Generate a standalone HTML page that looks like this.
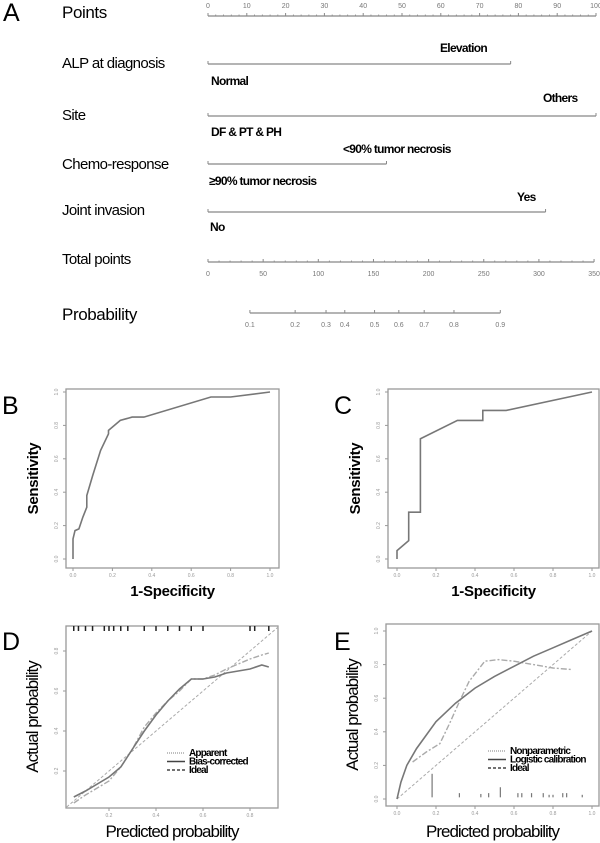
<!DOCTYPE html>
<html><head><meta charset="utf-8"><style>
body{margin:0;background:#fff;width:600px;height:843px;overflow:hidden}
svg{display:block;font-family:"Liberation Sans",sans-serif}
.lab{font-size:15px;fill:#000;letter-spacing:-0.6px}
.big{font-size:17px;fill:#000;letter-spacing:-0.4px}
.cat{font-size:12px;fill:#000;letter-spacing:-0.7px;font-weight:bold}
.tk{font-size:7px;fill:#777}
.st{font-size:5px;fill:#999}
.at{font-size:15px;font-weight:bold;fill:#000;letter-spacing:-0.3px}
.at2{font-size:17px;fill:#000;letter-spacing:-1px}
.pl{font-size:25px;fill:#000}
.lg{font-size:10px;fill:#000;font-weight:bold;letter-spacing:-0.8px}
</style></head><body>
<svg id="s" width="600" height="843">
<g id="nomo">
<text class="pl" x="3" y="21">A</text>
<text class="big" x="62" y="18">Points</text>
<text class="lab" x="62" y="68">ALP at diagnosis</text>
<text class="cat" x="440" y="52">Elevation</text>
<text class="cat" x="211" y="85">Normal</text>
<text class="lab" x="62" y="120">Site</text>
<text class="cat" x="543" y="102">Others</text>
<text class="cat" x="211" y="136">DF &amp; PT &amp; PH</text>
<text class="lab" x="62" y="169">Chemo-response</text>
<text class="cat" x="343" y="153">&lt;90% tumor necrosis</text>
<text class="cat" x="209" y="185">≥90% tumor necrosis</text>
<text class="lab" x="62" y="215">Joint invasion</text>
<text class="cat" x="517" y="201">Yes</text>
<text class="cat" x="210" y="231">No</text>
<text class="lab" x="62" y="264">Total points</text>
<text class="big" x="62" y="320">Probability</text>
</g>
</svg>
<script>
const NS='http://www.w3.org/2000/svg';
const svg=document.getElementById('s');
function mk(t,a,p){const e=document.createElementNS(NS,t);for(const k in a)e.setAttribute(k,a[k]);(p||svg).appendChild(e);return e;}
// ---- nomogram data
const pointTicks=[0,10,20,30,40,50,60,70,80,90,100];
const alpPoints=[0,78];
const sitePoints=[0,100];
const chemoPoints=[0,46];
const jointPoints=[0,87];
const totalTicks=[0,50,100,150,200,250,300,350];
const probTicks=[0.1,0.2,0.3,0.4,0.5,0.6,0.7,0.8,0.9];
const probTotals=[38,79,107,124,151,173,196,223,265];
const nomo=document.getElementById('nomo');
const X0=208,X1=596;
const px=v=>X0+(X1-X0)*v/100;
const tx=v=>X0+(X1-X0)*v/350*0.995;
const G='#888';
function axis(y,ticks,fx,name,lblY,minor){
  const g=mk('g',{},nomo);
  
  
  mk('line',{x1:fx(ticks[0]),x2:fx(ticks[ticks.length-1]),y1:y,y2:y,stroke:G,'stroke-width':1.3},g);
  ticks.forEach((t,i)=>{
    mk('line',{x1:fx(t),x2:fx(t),y1:y,y2:y-3,stroke:G,'stroke-width':1},g);
    const tt=mk('text',{x:fx(t),y:lblY,'text-anchor':'middle',class:'tk'},g);tt.textContent=t;
    if(minor&&i<ticks.length-1){for(let k=1;k<minor;k++){const m=t+(ticks[i+1]-t)*k/minor;mk('line',{x1:fx(m),x2:fx(m),y1:y,y2:y-1.5,stroke:G,'stroke-width':0.8},g);}}
  });
}
axis(16,pointTicks,px,'points-axis',8,5);
axis(262,totalTicks,tx,'total-points-axis',276,5);
function seg(y,pts,name){
  const g=mk('g',{},nomo);
  
  
  mk('line',{x1:px(pts[0]),x2:px(pts[1]),y1:y,y2:y,stroke:G,'stroke-width':1.3},g);
  pts.forEach(p=>mk('line',{x1:px(p),x2:px(p),y1:y,y2:y-3,stroke:G},g));
}
seg(64,alpPoints,'alp-scale');seg(116,sitePoints,'site-scale');seg(164,chemoPoints,'chemo-scale');seg(212,jointPoints,'joint-scale');
{const g=mk('g',{},nomo);
 
 
 mk('line',{x1:tx(probTotals[0]),x2:tx(probTotals[8]),y1:313,y2:313,stroke:G,'stroke-width':1.3},g);
 probTicks.forEach((p,i)=>{mk('line',{x1:tx(probTotals[i]),x2:tx(probTotals[i]),y1:313,y2:310,stroke:G},g);
  const t=mk('text',{x:tx(probTotals[i]),y:327,'text-anchor':'middle',class:'tk'},g);t.textContent=p;});}

// ---- ROC data
const rocB_fpr=[0,0,0.01,0.03,0.05,0.07,0.07,0.1,0.14,0.18,0.18,0.24,0.3,0.36,0.7,0.8,1];
const rocB_tpr=[0,0.12,0.17,0.18,0.25,0.31,0.38,0.5,0.65,0.75,0.77,0.83,0.85,0.85,0.97,0.97,1];
const rocC_fpr=[0,0,0.06,0.06,0.12,0.12,0.31,0.44,0.44,0.56,1];
const rocC_tpr=[0,0.05,0.11,0.28,0.28,0.72,0.83,0.83,0.89,0.89,1];
const unitTicks=[0,0.2,0.4,0.6,0.8,1.0];
// ---- calibration data
const calD_x=[0.05,0.1,0.2,0.25,0.3,0.35,0.4,0.45,0.5,0.55,0.6,0.65,0.7,0.8,0.85,0.88];
const calD_bias=[0.07,0.1,0.17,0.22,0.31,0.4,0.48,0.55,0.61,0.66,0.66,0.67,0.69,0.71,0.73,0.72];
const calD_app=[0.04,0.08,0.15,0.22,0.31,0.42,0.49,0.55,0.6,0.66,0.66,0.68,0.71,0.76,0.78,0.79];
const rugD=[0.05,0.07,0.1,0.13,0.18,0.2,0.22,0.25,0.28,0.35,0.4,0.45,0.5,0.55,0.6,0.8,0.82,0.88];
const calE_x=[0,0.02,0.05,0.1,0.2,0.3,0.4,0.5,0.6,0.7,0.8,0.9,1];
const calE_logit=[0,0.1,0.2,0.3,0.46,0.57,0.66,0.73,0.79,0.85,0.9,0.95,1];
const calE_npx=[0.08,0.15,0.22,0.27,0.32,0.37,0.45,0.52,0.6,0.7,0.8,0.9];
const calE_npy=[0.22,0.28,0.33,0.45,0.58,0.7,0.82,0.83,0.82,0.8,0.78,0.77];
const rugE=[0.18,0.32,0.43,0.47,0.53,0.62,0.64,0.69,0.75,0.78,0.8,0.85,0.87,0.95];
const rugEh=[0.14,0.025,0.02,0.025,0.06,0.025,0.025,0.025,0.025,0.015,0.015,0.025,0.025,0.015];

function panel(o){
  const g=mk('g',{});
  
  
  const sx=v=>o.x0+(o.x1-o.x0)*v, sy=v=>o.y0-(o.y0-o.y1)*v;
  mk('rect',{x:o.fx,y:o.fy,width:o.fw,height:o.fh,fill:'none',stroke:'#999','stroke-width':1.3},g);
  const pl=mk('text',{x:o.lx,y:o.ly,class:'pl'},g);pl.textContent=o.label;
  o.xt.forEach(t=>{mk('line',{x1:sx(t),x2:sx(t),y1:o.fy+o.fh,y2:o.fy+o.fh+3,stroke:'#999'},g);
    const e=mk('text',{x:sx(t),y:o.fy+o.fh+9,'text-anchor':'middle',class:'st'},g);e.textContent=t.toFixed(1);});
  o.yt.forEach(t=>{mk('line',{x1:o.fx,x2:o.fx-3,y1:sy(t),y2:sy(t),stroke:'#999'},g);
    const e=mk('text',{x:o.fx-8,y:sy(t),'text-anchor':'middle',class:'st',transform:`rotate(-90 ${o.fx-8} ${sy(t)})`},g);e.textContent=t.toFixed(1);});
  const xt=mk('text',{x:o.fx+o.fw/2,y:o.xty,'text-anchor':'middle',class:o.tcls},g);xt.textContent=o.xtitle;
  
  
  const yx=o.fx-28,yy=o.fy+o.fh/2;
  const yt=mk('text',{x:yx,y:yy,'text-anchor':'middle',class:o.tcls,transform:`rotate(-90 ${yx} ${yy})`},g);yt.textContent=o.ytitle;
  
  
  return {g,sx,sy};
}
function line(p,xs,ys,attrs,name){
  const d=xs.map((x,i)=>(i?'L':'M')+p.sx(x).toFixed(1)+','+p.sy(ys[i]).toFixed(1)).join('');
  const e=mk('path',Object.assign({d,fill:'none'},attrs),p.g);
  
  
}
const B=panel({name:'panel-b-roc',label:'B',lx:2,ly:414,fx:66,fy:389,fw:213,fh:179,x0:73,x1:270,y0:559,y1:392,xt:unitTicks,yt:unitTicks,xtitle:'1-Specificity',ytitle:'Sensitivity',xty:596,tcls:'at'});
line(B,rocB_fpr,rocB_tpr,{stroke:'#777','stroke-width':1.6},'roc-curve-b');
const C=panel({name:'panel-c-roc',label:'C',lx:334,ly:414,fx:388,fy:389,fw:211,fh:179,x0:397,x1:592,y0:559,y1:392,xt:unitTicks,yt:unitTicks,xtitle:'1-Specificity',ytitle:'Sensitivity',xty:596,tcls:'at'});
line(C,rocC_fpr,rocC_tpr,{stroke:'#777','stroke-width':1.6},'roc-curve-c');
const D=panel({name:'panel-d-calibration',label:'D',lx:2,ly:650,fx:66,fy:626,fw:212,fh:182,x0:62,x1:297,y0:811,y1:611,xt:[0.2,0.4,0.6,0.8],yt:[0.2,0.4,0.6,0.8],xtitle:'Predicted probability',ytitle:'Actual probability',xty:837,tcls:'at2'});
line(D,[0.02,0.92],[0.02,0.92],{stroke:'#aaa','stroke-width':1,'stroke-dasharray':'3,2'},'ideal-line-d');
line(D,calD_x,calD_app,{stroke:'#aaa','stroke-width':1.4,'stroke-dasharray':'6,2,2,2'},'apparent-line');
line(D,calD_x,calD_bias,{stroke:'#777','stroke-width':1.6},'bias-corrected-line');
rugD.forEach(r=>{const e=mk('line',{x1:D.sx(r),x2:D.sx(r),y1:626,y2:631,stroke:'#222','stroke-width':1.5},D.g);
 
 });
const E=panel({name:'panel-e-calibration',label:'E',lx:334,ly:650,fx:386,fy:624,fw:213,fh:182,x0:397,x1:592,y0:799,y1:631,xt:unitTicks,yt:unitTicks,xtitle:'Predicted probability',ytitle:'Actual probability',xty:837,tcls:'at2'});
line(E,[0,1],[0,1],{stroke:'#aaa','stroke-width':1,'stroke-dasharray':'3,2'},'ideal-line-e');
line(E,calE_npx,calE_npy,{stroke:'#aaa','stroke-width':1.4,'stroke-dasharray':'6,2,2,2'},'nonparametric-line');
line(E,calE_x,calE_logit,{stroke:'#777','stroke-width':1.6},'logistic-calibration-line');
rugE.forEach((r,i)=>{const e=mk('line',{x1:E.sx(r),x2:E.sx(r),y1:E.sy(0.01),y2:E.sy(0.01+rugEh[i]),stroke:'#777','stroke-width':1.2},E.g);
 
 });
function legend(p,x,y,items,name){
  const g=mk('g',{},p.g);
  
  
  items.forEach((it,i)=>{const yy=y+i*8.5;
    mk('line',{x1:x,x2:x+18,y1:yy,y2:yy,stroke:it[1],'stroke-width':1.5,'stroke-dasharray':it[2]},g);
    const t=mk('text',{x:x+22,y:yy+3,class:'lg'},g);t.textContent=it[0];});
}
legend(D,167,753,[['Apparent','#aaa','1,1'],['Bias-corrected','#444','none'],['Ideal','#444','3,2']],'legend-d');
legend(E,488,751,[['Nonparametric','#aaa','1,1'],['Logistic calibration','#444','none'],['Ideal','#444','3,2']],'legend-e');
</script>
</body></html>
